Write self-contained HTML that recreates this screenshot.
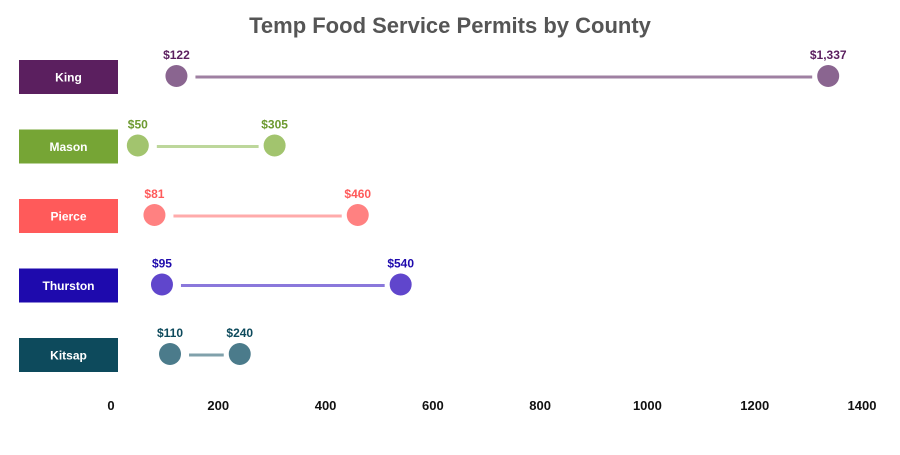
<!DOCTYPE html>
<html><head><meta charset="utf-8"><style>
body{margin:0;background:#fff;font-family:"Liberation Sans",sans-serif}
svg text{font-family:"Liberation Sans",sans-serif;font-weight:bold}
</style></head><body>
<svg id="c" width="900" height="450">
<text x="450" y="33" text-anchor="middle" font-size="22" fill="#555">Temp Food Service Permits by County</text>
</svg>
<script>
const counties=["King","Mason","Pierce","Thurston","Kitsap"];
const minVals=[122,50,81,95,110];
const maxVals=[1337,305,460,540,240];
const ticks=[0,200,400,600,800,1000,1200,1400];
const boxColors=["#5b1f5f","#76a535","#ff5a5a","#1e0aad","#0d4a5c"];
const dotColors=["#8a6590","#a2c46e","#ff8181","#6046cc","#4b7b8b"];
const lineColors=["#9f80a2","#bdd79b","#ffabab","#8a78db","#80a1ab"];
const labelColors=["#5b1f5f","#6d9a30","#ff5a5a","#1e0aad","#0d4a5c"];
const ns="http://www.w3.org/2000/svg",svg=document.getElementById("c");
const x=v=>111+v*(862-111)/1400;
const y=i=>77+i*69.5;
function mk(t,a){const e=document.createElementNS(ns,t);for(const k in a)e.setAttribute(k,a[k]);svg.appendChild(e);return e;}
ticks.forEach(t=>{const e=mk("text",{x:x(t),y:410,"text-anchor":"middle","font-size":"13",fill:"#111"});e.textContent=t;

});
const fmt=v=>"$"+v.toLocaleString("en-US");
counties.forEach((c,i)=>{
 const yy=y(i);
 const r=mk("rect",{x:19,y:yy-17,width:99,height:34,fill:boxColors[i]});
 
 
 const t=mk("text",{x:68.5,y:yy+4.5,"text-anchor":"middle","font-size":"12",fill:"#fff"});t.textContent=c;
 
 
 const x1=x(minVals[i]),x2=x(maxVals[i]);
 const l=mk("line",{x1:x1+19,x2:x2-16,y1:yy,y2:yy,stroke:lineColors[i],"stroke-width":3});
 
 
 [[x1,minVals[i]],[x2,maxVals[i]]].forEach(([px,v],j)=>{
  const d=mk("circle",{cx:px,cy:yy-1,r:11,fill:dotColors[i]});
  
  
  const lt=mk("text",{x:px,y:yy-18,"text-anchor":"middle","font-size":"12",fill:labelColors[i]});lt.textContent=fmt(v);
  
  
 });
});
</script>
</body></html>
